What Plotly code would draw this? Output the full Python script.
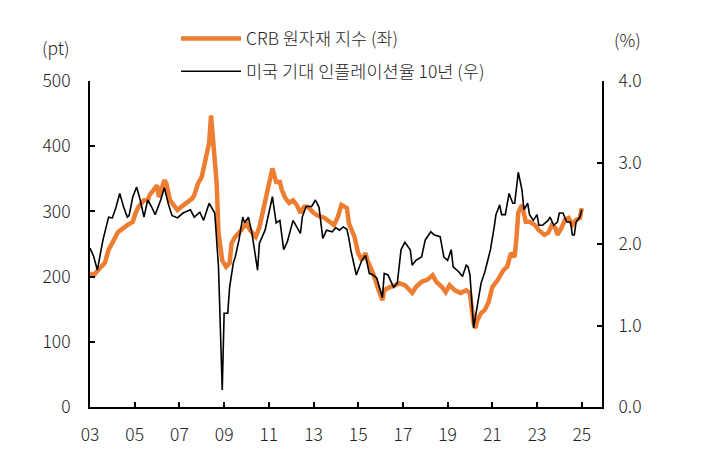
import plotly.graph_objects as go

# CRB commodity index (pt, left axis)
crb_dates = ["2003-01", "2003-03", "2003-07", "2003-09", "2003-11", "2004-01", "2004-04", "2004-09",
             "2004-12", "2005-01", "2005-03", "2005-06", "2005-08", "2005-09", "2005-11", "2006-01",
             "2006-02", "2006-05", "2006-06", "2006-08", "2006-09", "2006-12", "2007-02", "2007-05",
             "2007-08", "2007-09", "2007-11", "2008-01", "2008-03", "2008-05", "2008-06", "2008-07",
             "2008-09", "2008-10", "2008-12", "2009-02", "2009-04", "2009-05", "2009-07", "2009-09",
             "2009-11", "2010-01", "2010-03", "2010-06", "2010-08", "2010-10", "2010-12", "2011-02",
             "2011-03", "2011-05", "2011-07", "2011-08", "2011-10", "2011-12", "2012-02", "2012-04",
             "2012-06", "2012-08", "2012-10", "2013-01", "2013-03", "2013-07", "2013-10", "2013-12",
             "2014-02", "2014-04", "2014-07", "2014-08", "2014-11", "2015-01", "2015-03", "2015-05",
             "2015-06", "2015-09", "2015-12", "2016-02", "2016-03", "2016-06", "2016-09", "2016-11",
             "2017-02", "2017-06", "2017-08", "2017-11", "2018-02", "2018-05", "2018-07", "2018-10",
             "2018-12", "2019-02", "2019-05", "2019-08", "2019-11", "2020-01", "2020-03", "2020-04",
             "2020-05", "2020-07", "2020-09", "2020-11", "2021-01", "2021-04", "2021-07", "2021-09",
             "2021-11", "2022-01", "2022-02", "2022-03", "2022-05", "2022-06", "2022-07", "2022-09",
             "2022-12", "2023-02", "2023-05", "2023-07", "2023-09", "2023-11", "2023-12", "2024-02",
             "2024-04", "2024-06", "2024-08", "2024-10", "2024-12", "2025-01"]
crb_values = [205, 202, 215, 221, 241, 251, 268, 279,
              284, 294, 307, 317, 317, 325, 333, 340,
              322, 348, 343, 317, 313, 302, 307, 314,
              320, 325, 343, 353, 379, 405, 447, 415,
              343, 267, 225, 215, 221, 251, 261, 267,
              276, 282, 271, 261, 276, 302, 333, 353,
              366, 345, 345, 333, 320, 313, 317, 310,
              298, 307, 307, 298, 294, 290, 284, 279,
              291, 310, 305, 282, 261, 236, 225, 236,
              225, 205, 179, 164, 179, 184, 187, 190,
              187, 175, 184, 192, 195, 202, 192, 184,
              176, 187, 179, 175, 179, 175, 129, 121,
              133, 144, 149, 161, 184, 195, 210, 215,
              236, 230, 261, 298, 310, 298, 284, 284,
              279, 271, 264, 267, 279, 274, 264, 274,
              287, 290, 279, 287, 290, 305]

# US 10y breakeven inflation (%, right axis)
bei_dates = ["2003-01", "2003-03", "2003-05", "2003-08", "2003-11", "2004-01", "2004-03", "2004-05",
             "2004-07", "2004-09", "2004-10", "2004-12", "2005-02", "2005-04", "2005-06", "2005-08",
             "2005-10", "2005-12", "2006-03", "2006-05", "2006-07", "2006-09", "2006-12", "2007-03",
             "2007-07", "2007-09", "2007-12", "2008-02", "2008-05", "2008-06", "2008-08", "2008-10",
             "2008-11", "2008-12", "2009-01", "2009-03", "2009-04", "2009-06", "2009-07", "2009-09",
             "2009-11", "2009-12", "2010-02", "2010-04", "2010-07", "2010-08", "2010-11", "2011-02",
             "2011-03", "2011-05", "2011-07", "2011-09", "2011-11", "2012-02", "2012-06", "2012-07",
             "2012-09", "2012-12", "2013-02", "2013-04", "2013-05", "2013-06", "2013-08", "2013-11",
             "2014-01", "2014-03", "2014-05", "2014-07", "2014-08", "2014-09", "2014-12", "2015-03",
             "2015-05", "2015-07", "2015-09", "2015-11", "2016-02", "2016-03", "2016-05", "2016-08",
             "2016-10", "2016-12", "2017-02", "2017-05", "2017-06", "2017-08", "2017-11", "2018-01",
             "2018-04", "2018-06", "2018-09", "2018-11", "2019-01", "2019-03", "2019-04", "2019-07",
             "2019-09", "2019-11", "2019-12", "2020-01", "2020-03", "2020-05", "2020-07", "2020-09",
             "2020-12", "2021-02", "2021-03", "2021-05", "2021-06", "2021-08", "2021-10", "2021-12",
             "2022-01", "2022-03", "2022-05", "2022-06", "2022-08", "2022-09", "2022-11", "2023-01",
             "2023-02", "2023-04", "2023-07", "2023-08", "2023-10", "2023-12", "2024-01", "2024-03",
             "2024-05", "2024-07", "2024-08", "2024-09", "2024-10", "2024-12", "2025-01"]
bei_values = [1.95, 1.85, 1.68, 2.05, 2.33, 2.32, 2.45, 2.62,
              2.46, 2.33, 2.35, 2.58, 2.70, 2.54, 2.33, 2.54,
              2.46, 2.36, 2.54, 2.69, 2.50, 2.35, 2.32, 2.38,
              2.42, 2.33, 2.39, 2.29, 2.50, 2.46, 2.38, 1.72,
              0.91, 0.21, 1.15, 1.15, 1.47, 1.77, 1.84, 2.05,
              2.33, 2.26, 2.33, 2.13, 1.68, 2.01, 2.17, 2.46,
              2.58, 2.26, 2.29, 1.93, 2.03, 2.29, 2.13, 2.33,
              2.46, 2.46, 2.54, 2.45, 2.29, 2.07, 2.17, 2.15,
              2.20, 2.17, 2.21, 2.18, 2.07, 1.93, 1.62, 1.80,
              1.86, 1.64, 1.62, 1.58, 1.34, 1.64, 1.62, 1.47,
              1.52, 1.93, 2.02, 1.93, 1.74, 1.80, 1.84, 2.05,
              2.15, 2.11, 2.09, 1.84, 1.80, 1.93, 1.72, 1.66,
              1.60, 1.74, 1.72, 1.62, 0.97, 1.23, 1.52, 1.66,
              1.93, 2.21, 2.36, 2.48, 2.36, 2.36, 2.62, 2.50,
              2.50, 2.88, 2.66, 2.42, 2.50, 2.36, 2.29, 2.36,
              2.23, 2.23, 2.29, 2.33, 2.23, 2.27, 2.38, 2.38,
              2.27, 2.27, 2.11, 2.11, 2.27, 2.33, 2.42]

FONT = "Noto Sans CJK KR"
ORANGE = "#ED7D31"
TXT = dict(family=FONT, size=17.5, color="#222", weight=300)

fig = go.Figure()

fig.add_trace(go.Scatter(
    x=crb_dates, y=crb_values, name="CRB 원자재 지수 (좌)",
    mode="lines", line=dict(color=ORANGE, width=4.5),
    legendgroup="a", yaxis="y"))

fig.add_trace(go.Scatter(
    x=bei_dates, y=bei_values, name="미국 기대 인플레이션율 10년 (우)",
    mode="lines", line=dict(color="black", width=1.6),
    legendgroup="b", yaxis="y2"))

axis_common = dict(showgrid=False, zeroline=False, showline=True, linecolor="black", linewidth=2,
                   ticks="inside", ticklen=5, tickwidth=1.5, tickcolor="black",
                   tickfont=TXT, automargin=False)

# page body adds an 8px offset, so margins are shifted to land the plot where the original sits
fig.update_layout(
    width=709, height=454,
    margin=dict(l=82, r=115, t=73, b=55),
    plot_bgcolor="white", paper_bgcolor="white",
    font=TXT,
    xaxis=dict(axis_common, type="date", range=["2003-01-01", "2025-11-28"],
               tick0="2003-01-01", dtick="M24", tickformat="%y", ticklabelstandoff=11),
    yaxis=dict(axis_common, range=[0, 500], dtick=100, ticklabelstandoff=14),
    yaxis2=dict(axis_common, range=[0, 4], dtick=1, tickformat=".1f", overlaying="y",
                side="right", ticklabelstandoff=11),
    legend=dict(x=0.168, y=1.185, xanchor="left", yanchor="top", bgcolor="rgba(0,0,0,0)",
                itemwidth=60, tracegroupgap=7, font=TXT),
    annotations=[
        dict(text="(pt)", xref="paper", yref="paper", x=-0.035, y=1.104, xanchor="right",
             yanchor="middle", showarrow=False, font=TXT),
        dict(text="(%)", xref="paper", yref="paper", x=1.02, y=1.126, xanchor="left",
             yanchor="middle", showarrow=False, font=TXT),
    ],
)

fig.write_html("out.html")
